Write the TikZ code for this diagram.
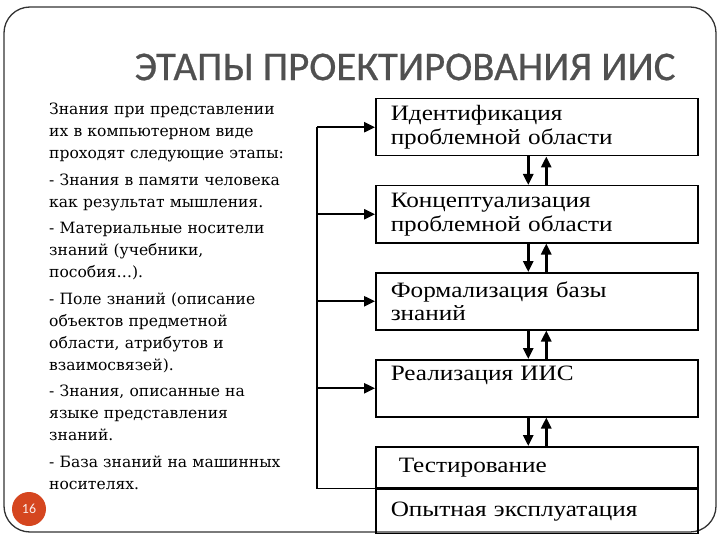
\documentclass[tikz,border=0pt]{standalone}
\usepackage{fontspec}
\setmainfont{Liberation Serif}
\newfontfamily\titlefont[FakeBold=0.6]{Carlito}
\newfontfamily\badgefont{Carlito}
\newfontfamily\notefont{DejaVu Serif}
\newfontfamily\boxfont[FakeStretch=1.15]{Liberation Serif}
\usetikzlibrary{arrows.meta, positioning, calc}
\definecolor{titlegray}{HTML}{505050}
\definecolor{badge}{HTML}{D5461F}

\begin{document}
\begin{tikzpicture}[x=1bp, y=-1bp,
  every node/.style={font=\boxfont\fontsize{22}{24}\selectfont},
  stage/.style ={rectangle, draw, line width=1.5bp, minimum width=322bp,
                 minimum height=57bp, text width=292bp, inner xsep=15bp,
                 inner ysep=4bp, align=left},
  note/.style  ={font=\notefont\fontsize{15.6}{22}\selectfont, text width=250bp,
                 inner sep=0pt, align=left},
  frame/.style ={draw=black!80, line width=1.3bp, rounded corners=26bp},
  flow/.style  ={-{Triangle[length=11bp, width=10bp]}, line width=2.6bp},
  fbline/.style={line width=1.9bp},
  fbarrow/.style={-{Triangle[length=11bp, width=10bp]}, line width=2.4bp},
]
\useasboundingbox (0,0) rectangle (720,540);
\fill[white] (0,0) rectangle (720,540);
\draw[frame] (4,7) rectangle (716,532);

% Title
\node[font=\titlefont\fontsize{41}{48}\selectfont, text=titlegray] (title)
  at (405,67) {ЭТАПЫ ПРОЕКТИРОВАНИЯ ИИС};

% Left text
\node[note, anchor=north west] (knowledge) at (49,103)
  {Знания при представлении\\
   их в компьютерном виде\\
   проходят следующие этапы:\\[4.8bp]
   - Знания в памяти человека\\
   как результат мышления.\\[4.8bp]
   - Материальные носители\\
   знаний (учебники,\\
   пособия…).\\[4.8bp]
   - Поле знаний (описание\\
   объектов предметной\\
   области, атрибутов и\\
   взаимосвязей).\\[4.8bp]
   - Знания, описанные на\\
   языке представления\\
   знаний.\\[4.8bp]
   - База знаний на машинных\\
   носителях.};

% Stages
\node[stage, anchor=north west] (s1) at (375,98)
  {Идентификация\\проблемной области};
\node[stage, below=28.5bp of s1] (s2) {Концептуализация\\проблемной области};
\node[stage, below=28.5bp of s2] (s3) {Формализация базы\\знаний};
\node[stage, below=28.5bp of s3, text height=14bp, text depth=29bp] (s4)
  {Реализация ИИС};
\node[stage, below=28.5bp of s4, minimum height=41bp] (test)
  {\hspace*{8bp}Тестирование};
\node[stage, below=0pt of test, minimum height=44bp] (opyt)
  {Опытная эксплуатация};

% Arrows between stages
\foreach \a/\b in {s1/s2, s2/s3, s3/s4, s4/test} {
  \draw[flow] ($(\a.south)+(-8.5bp,0)$) -- ($(\b.north)+(-8.5bp,0)$);
  \draw[flow] ($(\b.north)+(9.5bp,0)$) -- ($(\a.south)+(9.5bp,0)$);
}

% Feedback
\coordinate[left=58bp of opyt.north west] (fb);
\draw[fbline] (opyt.north west) -- (fb) -- (fb |- s1.west);
\foreach \s in {s1, s2, s3, s4}
  \draw[fbarrow] (fb |- \s.west) -- (\s.west);

% Page number
\node[circle, fill=badge, minimum size=34bp, inner sep=0pt, text=white!90!badge,
      font=\badgefont\fontsize{14}{16}\selectfont] (page) at (29,509) {16};
\end{tikzpicture}
\end{document}
